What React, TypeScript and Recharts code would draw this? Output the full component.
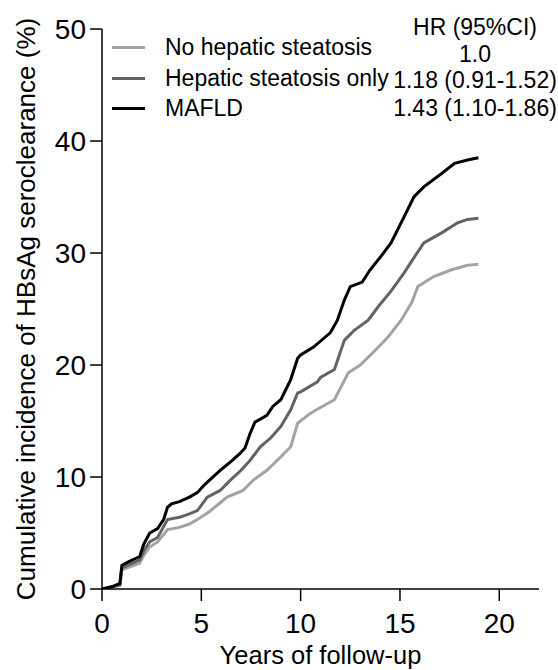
import React from "react";
import { LineChart, Line, XAxis, YAxis, Legend } from "recharts";

const FONT = '"Liberation Sans", Arial, Helvetica, sans-serif';

// Cumulative incidence curves: [years, percent]
const noSteatosis: [number, number][] = [
  [0, 0], [0.5, 0.2], [0.9, 0.3], [1.0, 1.7], [1.3, 1.9], [1.9, 2.3], [2.1, 3.0],
  [2.4, 3.75], [2.8, 4.2], [3.3, 5.3], [3.9, 5.5], [4.4, 5.8], [4.8, 6.2], [5.4, 6.9],
  [5.95, 7.7], [6.3, 8.2], [7.1, 8.8], [7.6, 9.7], [8.3, 10.6], [9.0, 11.8], [9.5, 12.7],
  [9.85, 14.8], [10.5, 15.7], [11.0, 16.2], [11.7, 16.9], [12.4, 19.3], [13.0, 20.0],
  [13.7, 21.2], [14.4, 22.5], [15.06, 24.0], [15.6, 25.6], [15.9, 27.0], [16.7, 27.9],
  [17.6, 28.5], [18.4, 28.9], [18.95, 29.0],
];

const steatosisOnly: [number, number][] = [
  [0, 0], [0.5, 0.2], [0.9, 0.4], [1.0, 1.9], [1.3, 2.1], [1.9, 2.6], [2.1, 3.4],
  [2.4, 4.2], [2.8, 4.6], [3.3, 6.2], [3.9, 6.4], [4.4, 6.7], [4.8, 7.0], [5.3, 8.2],
  [5.95, 8.8], [6.45, 9.7], [7.0, 10.6], [7.46, 11.5], [7.97, 12.7], [8.5, 13.5],
  [9.0, 14.5], [9.5, 16.0], [9.85, 17.5], [10.0, 17.6], [10.85, 18.5], [11.0, 18.9],
  [11.7, 19.6], [12.2, 22.2], [12.7, 23.1], [13.4, 24.0], [13.9, 25.2], [14.55, 26.6],
  [15.2, 28.2], [15.6, 29.3], [16.2, 30.9], [17.1, 31.8], [17.9, 32.7], [18.4, 33.0],
  [18.95, 33.1],
];

const mafld: [number, number][] = [
  [0, 0], [0.5, 0.2], [0.9, 0.5], [1.0, 2.1], [1.3, 2.4], [1.9, 2.9], [2.1, 4.0],
  [2.4, 5.0], [2.8, 5.4], [3.1, 6.2], [3.3, 7.3], [3.5, 7.6], [3.9, 7.8], [4.4, 8.2],
  [4.8, 8.6], [5.1, 9.2], [5.4, 9.7], [5.95, 10.6], [6.5, 11.4], [6.95, 12.1],
  [7.2, 12.6], [7.46, 13.9], [7.7, 14.9], [8.3, 15.5], [8.6, 16.3], [9.0, 16.9],
  [9.5, 18.7], [9.85, 20.6], [10.0, 20.9], [10.65, 21.6], [11.5, 22.9], [11.85, 24.0],
  [12.2, 25.8], [12.5, 27.0], [13.1, 27.4], [13.5, 28.5], [14.0, 29.6], [14.55, 30.9],
  [15.2, 33.2], [15.7, 35.0], [16.2, 35.9], [17.1, 37.1], [17.75, 38.0], [18.4, 38.3],
  [18.95, 38.5],
];

const seriesNames = ["No hepatic steatosis", "Hepatic steatosis only", "MAFLD"];
const seriesColors = ["#a3a3a3", "#636363", "#000000"];
const hrHeader = "HR (95%CI)";
const hrLabels = ["1.0", "1.18 (0.91-1.52)", "1.43 (1.10-1.86)"];

const xTicks = [0, 5, 10, 15, 20];
const yTicks = [0, 10, 20, 30, 40, 50];

const toRows = (pts: [number, number][]) => pts.map(([t, v]) => ({ t, v }));
const seriesData = [noSteatosis, steatosisOnly, mafld].map(toRows);

// legend + HR column, drawn as one block in the top area
function LegendBlock() {
  const rowY = [47, 78, 108];
  const hrY = [54, 80, 108];
  return (
    <div style={{ position: "relative", width: 558, height: 130, fontFamily: FONT, color: "#000" }}>
      {seriesNames.map((name, i) => (
        <React.Fragment key={name}>
          <div
            style={{
              position: "absolute",
              left: 112,
              top: rowY[i] - 1.5,
              width: 33,
              height: 3,
              background: seriesColors[i],
            }}
          />
          <div
            style={{
              position: "absolute",
              left: 165,
              top: rowY[i],
              transform: "translateY(-50%)",
              fontSize: 23,
              whiteSpace: "nowrap",
            }}
          >
            {name}
          </div>
        </React.Fragment>
      ))}
      <div
        style={{
          position: "absolute",
          left: 475,
          top: 27,
          transform: "translate(-50%, -50%)",
          fontSize: 23,
          whiteSpace: "nowrap",
        }}
      >
        {hrHeader}
      </div>
      {hrLabels.map((s, i) => (
        <div
          key={s}
          style={{
            position: "absolute",
            left: 475,
            top: hrY[i],
            transform: "translate(-50%, -50%)",
            fontSize: 23,
            whiteSpace: "nowrap",
          }}
        >
          {s}
        </div>
      ))}
    </div>
  );
}

export default function App() {
  const tickStyle = { fontSize: 28, fill: "#000", fontFamily: FONT };
  return (
    <div style={{ position: "absolute", left: 0, top: 0, width: 558, height: 670, background: "#fff" }}>
      <LineChart width={558} height={670} margin={{ top: 29, right: 19, bottom: 0, left: 0 }}>
        <XAxis
          type="number"
          dataKey="t"
          domain={[0, 22]}
          ticks={xTicks}
          allowDataOverflow
          height={81}
          tickSize={12}
          tickMargin={12}
          stroke="#000"
          strokeWidth={1.5}
          tick={tickStyle}
          label={(props: any) => {
            const vb = props.viewBox || { x: 102, width: 437 };
            const cx = vb.x + vb.width / 2;
            return (
              <text x={cx} y={664} textAnchor="middle" fontSize={25.5} fontFamily={FONT} fill="#000">
                Years of follow-up
              </text>
            );
          }}
        />
        <YAxis
          type="number"
          domain={[0, 50]}
          ticks={yTicks}
          allowDataOverflow
          width={102}
          tickSize={12}
          tickMargin={4}
          stroke="#000"
          strokeWidth={1.5}
          tick={tickStyle}
          label={(props: any) => {
            const vb = props.viewBox || { y: 29, height: 560 };
            const cy = vb.y + vb.height / 2;
            const bx = 35;
            return (
              <text
                x={bx}
                y={cy}
                transform={`rotate(-90 ${bx} ${cy})`}
                textAnchor="middle"
                fontSize={26}
                fontFamily={FONT}
                fill="#000"
              >
                Cumulative incidence of HBsAg seroclearance (%)
              </text>
            );
          }}
        />
        <Legend
          layout="horizontal"
          verticalAlign="middle"
          align="center"
          wrapperStyle={{ top: 0, left: 0, width: 558 }}
          content={() => <LegendBlock />}
        />
        {seriesData.map((d, i) => (
          <Line
            key={seriesNames[i]}
            name={seriesNames[i]}
            data={d}
            dataKey="v"
            type="linear"
            stroke={seriesColors[i]}
            strokeWidth={3}
            dot={false}
            activeDot={false}
            isAnimationActive={false}
          />
        ))}
      </LineChart>
    </div>
  );
}
